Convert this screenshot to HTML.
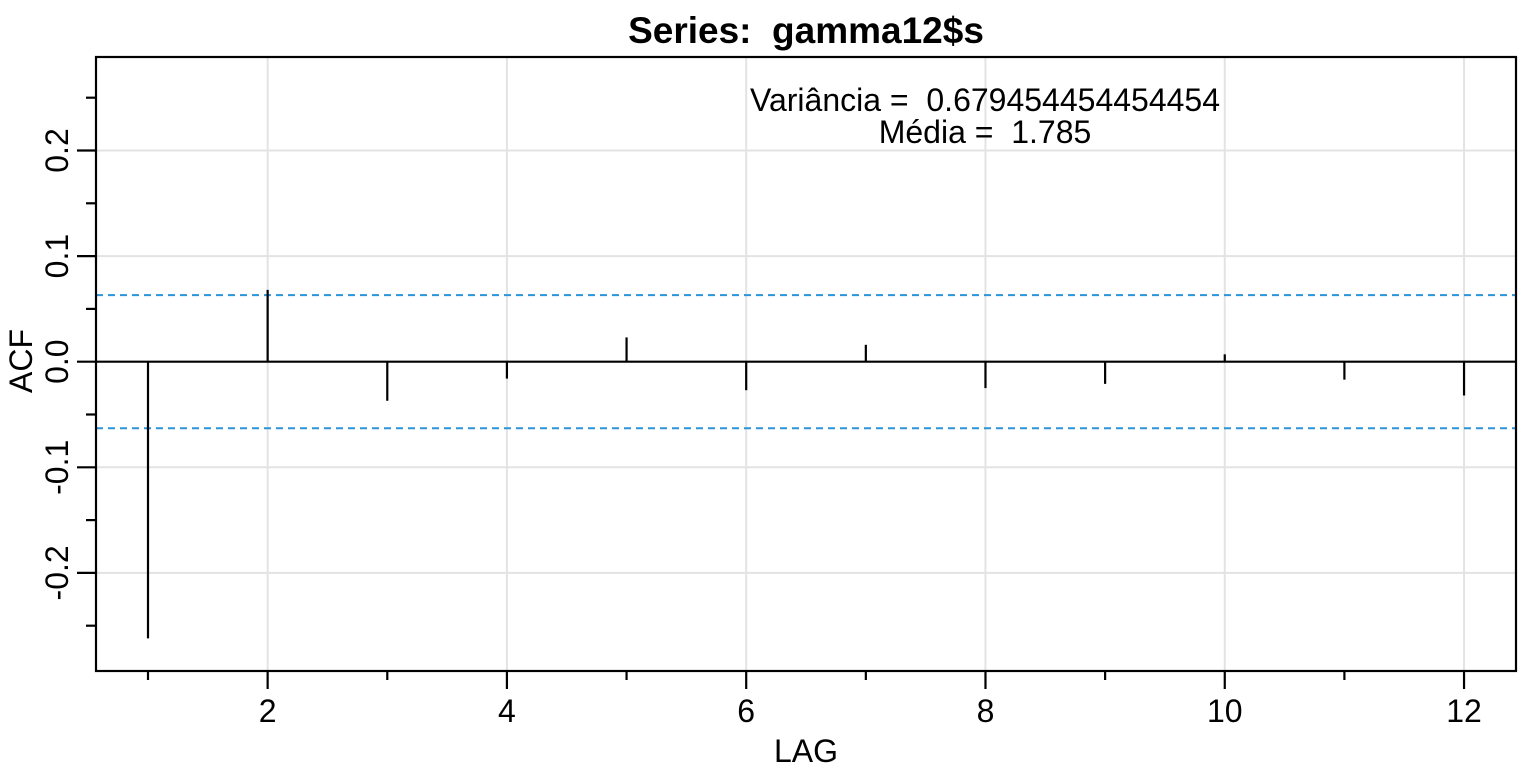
<!DOCTYPE html>
<html><head><meta charset="utf-8"><style>
body{margin:0;background:#fff;}
svg{display:block;font-family:"Liberation Sans",sans-serif;}
text{white-space:pre;}
</style></head><body>
<svg id="chart" width="1536" height="768"></svg>
<script>
const lags=[1,2,3,4,5,6,7,8,9,10,11,12];
const acfValues=[-0.262,0.068,-0.037,-0.016,0.023,-0.027,0.016,-0.025,-0.021,0.007,-0.017,-0.032];
const ciBound=0.063;
const yMajorTicks=[-0.2,-0.1,0.0,0.1,0.2];
const yMinorTicks=[-0.25,-0.15,-0.05,0.05,0.15,0.25];
const xMajorTicks=[2,4,6,8,10,12];
const xMinorTicks=[1,3,5,7,9,11];
const L=96,R=1516,T=57,B=671;
const xs=v=>148+(v-1)*119.64;
const ys=v=>361.7-v*1056;
const svg=document.getElementById('chart');
const NS='http://www.w3.org/2000/svg';
function el(tag,attrs,parent){const e=document.createElementNS(NS,tag);for(const k in attrs)e.setAttribute(k,attrs[k]);(parent||svg).appendChild(e);return e;}
yMajorTicks.forEach(v=>{if(v===0)return;const g=el('line',{x1:L,x2:R,y1:ys(v),y2:ys(v),stroke:'#e3e3e3','stroke-width':2});

});
xMajorTicks.forEach(v=>{const g=el('line',{x1:xs(v),x2:xs(v),y1:T,y2:B,stroke:'#e3e3e3','stroke-width':2});

});
const z=el('line',{x1:L,x2:R,y1:ys(0),y2:ys(0),stroke:'#000','stroke-width':2.2});


[ciBound,-ciBound].forEach(v=>{const c=el('line',{x1:L,x2:R,y1:ys(v),y2:ys(v),stroke:'#2a94dc','stroke-width':2,'stroke-dasharray':'7,5'});

});
lags.forEach((l,i)=>{const b=el('line',{x1:xs(l),x2:xs(l),y1:ys(0),y2:ys(acfValues[i]),stroke:'#000','stroke-width':2.2});

});
const f=el('rect',{x:L,y:T,width:R-L,height:B-T,fill:'none',stroke:'#000','stroke-width':2.2});


yMajorTicks.forEach(v=>{el('line',{x1:77,x2:L,y1:ys(v),y2:ys(v),stroke:'#000','stroke-width':2.2});
const t=el('text',{x:0,y:0,'font-size':32,'text-anchor':'middle',transform:`translate(68,${ys(v)}) rotate(-90)`});
t.textContent=v.toFixed(1);

});
yMinorTicks.forEach(v=>{el('line',{x1:86,x2:L,y1:ys(v),y2:ys(v),stroke:'#000','stroke-width':2.2});});
xMajorTicks.forEach(v=>{el('line',{x1:xs(v),x2:xs(v),y1:B,y2:B+18,stroke:'#000','stroke-width':2.2});
const t=el('text',{x:xs(v),y:722,'font-size':32,'text-anchor':'middle'});
t.textContent=v;

});
xMinorTicks.forEach(v=>{el('line',{x1:xs(v),x2:xs(v),y1:B,y2:B+9,stroke:'#000','stroke-width':2.2});});
const title=el('text',{x:806,y:43,'font-size':37,'font-weight':'bold','text-anchor':'middle'});
title.textContent='Series:  gamma12$s';


const xl=el('text',{x:806,y:762,'font-size':32,'text-anchor':'middle'});
xl.textContent='LAG';


const yl=el('text',{x:0,y:0,'font-size':32,'text-anchor':'middle',transform:'translate(32,361) rotate(-90)'});
yl.textContent='ACF';


const a1=el('text',{x:985,y:111,'font-size':32,'text-anchor':'middle'});
a1.textContent='Variância =  0.679454454454454';


const a2=el('text',{x:985,y:143,'font-size':32,'text-anchor':'middle'});
a2.textContent='Média =  1.785';


</script>
</body></html>
